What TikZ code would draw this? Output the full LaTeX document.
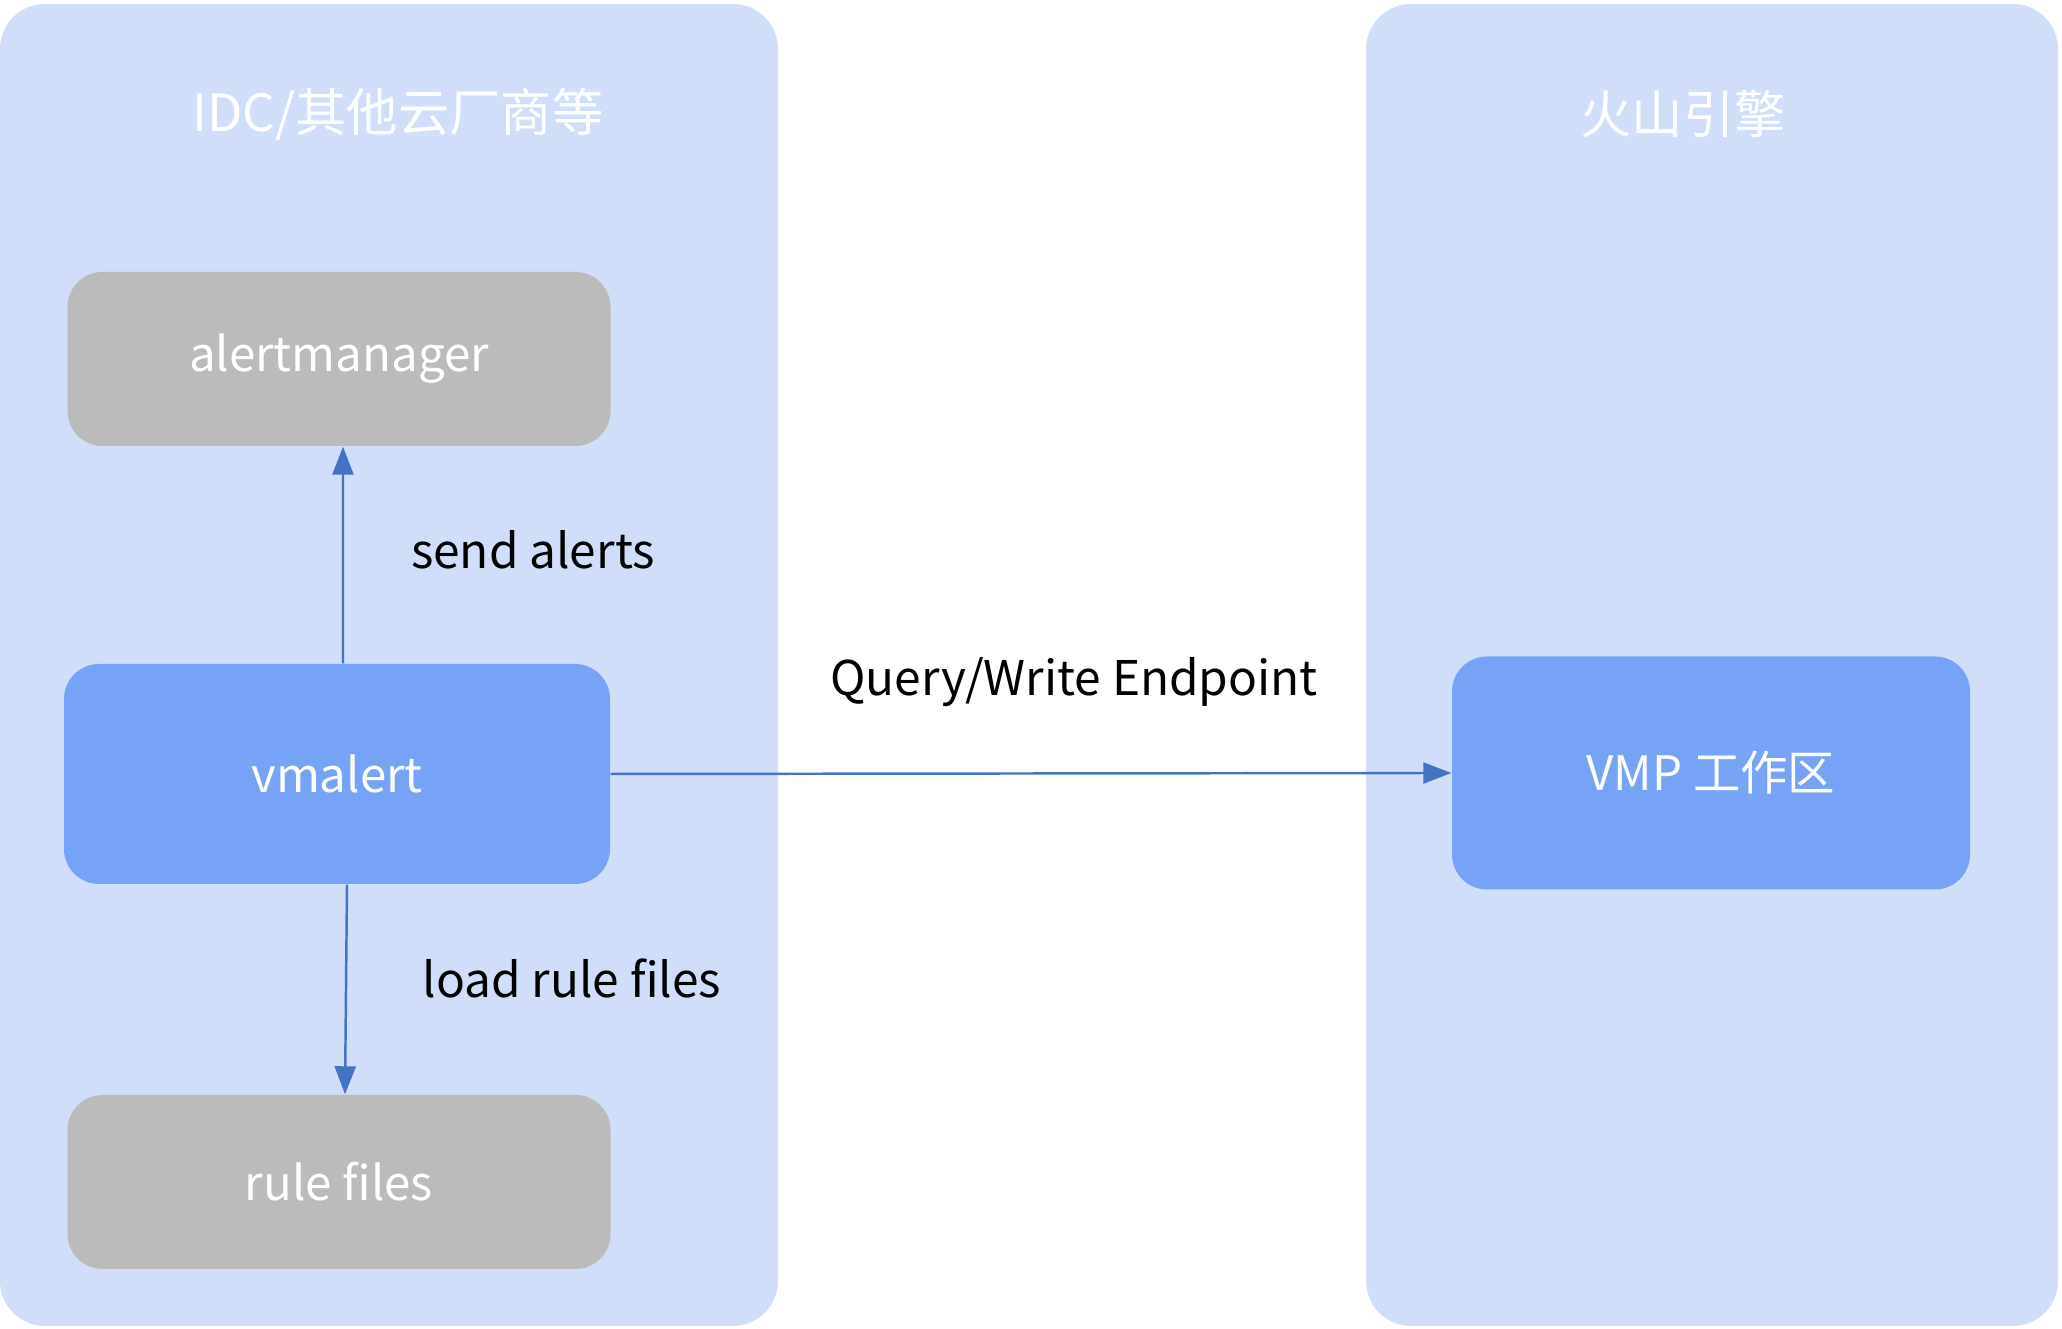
\documentclass[tikz,border=0pt]{standalone}
\usepackage{fontspec}
\setmainfont{Noto Sans CJK SC}
\usepackage{tikz}
\usetikzlibrary{
    arrows.meta,
    calc
}
\definecolor{panelblue}{HTML}{D0DEF9}
\definecolor{boxblue}{HTML}{77A3F6}
\definecolor{boxgray}{HTML}{BBBBBB}
\definecolor{linkblue}{HTML}{4472C4}

\begin{document}
\begin{tikzpicture}[scale=1,
    panel/.style={fill=panelblue, draw=none, rounded corners=0.45cm},
    graybox/.style={fill=boxgray, draw=none, rounded corners=0.35cm, text=white,
        minimum width=5.43cm, minimum height=1.74cm, font=\fontsize{13.5}{16}\selectfont},
    bluebox/.style={fill=boxblue, draw=none, rounded corners=0.35cm, text=white,
        font=\fontsize{13.5}{16}\selectfont},
    title/.style={text=white, font=\fontsize{14.6}{18}\selectfont},
    lbl/.style={text=black, font=\fontsize{13.6}{17}\selectfont},
    link/.style={draw=linkblue, line width=0.7pt, -{Triangle[length=0.28cm, width=0.21cm]}}
]
\useasboundingbox (0,0) rectangle (20.62,13.29);

\fill[panel] (0,0.03) rectangle (7.78,13.25);
\fill[panel] (13.66,0.03) rectangle (20.58,13.25);
\node[title] (tl) at (3.98,12.15) {IDC/其他云厂商等};
\node[title] (tr) at (16.83,12.15) {火山引擎};

\node[graybox] (am) at (3.39,9.70) {alertmanager};
\node[bluebox, minimum width=5.46cm, minimum height=2.20cm] (vmalert) at (3.37,5.55) {vmalert};
\node[graybox] (rules) at (3.39,1.47) {rule files};
\node[bluebox, minimum width=5.18cm, minimum height=2.33cm] (vmp) at (17.11,5.56) {VMP 工作区};

\draw[link] ($(vmalert.north)+(0.06,0)$) -- ($(am.south)+(0.04,0)$);
\node[lbl] (send) at (5.33,7.79) {send alerts};

\draw[link] ($(vmalert.south)+(0.10,0)$) -- ($(rules.north)+(0.06,0)$);
\node[lbl] (load) at (5.72,3.51) {load rule files};

\draw[link] (vmalert.east) -- (vmp.west);
\node[lbl] (qw) at (10.74,6.47) {Query/Write Endpoint};
\end{tikzpicture}
\end{document}
